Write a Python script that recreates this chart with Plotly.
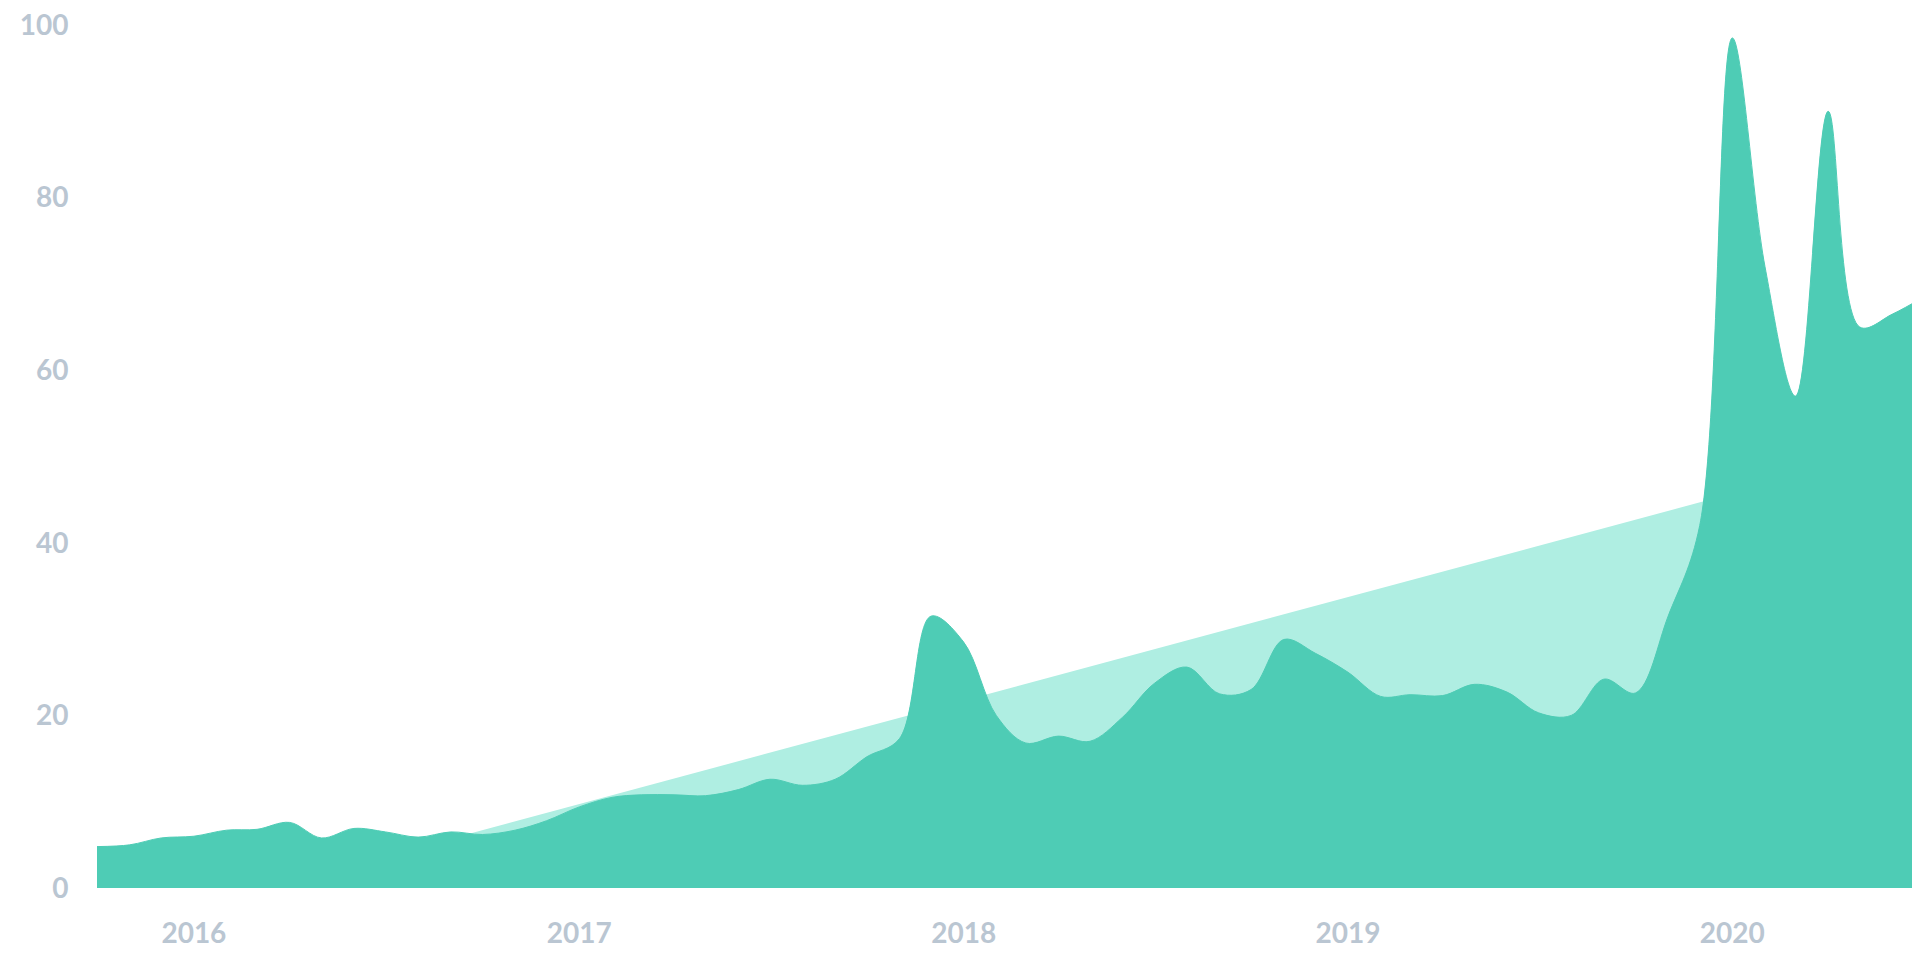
import plotly.graph_objects as go
import pandas as pd

# Monthly observations, Oct 2015 - Jul 2020
months = pd.date_range("2015-10-01", "2020-07-01", freq="MS").strftime("%Y-%m-%d").tolist()
values = [
    4.8, 5.0, 5.8,                                   # 2015 Oct-Dec
    6.0, 6.7, 6.8, 7.6, 5.8, 6.9, 6.5, 5.9, 6.5, 6.2, 6.7, 7.8,   # 2016
    9.4, 10.5, 10.8, 10.8, 10.7, 11.4, 12.6, 11.9, 12.6, 15.2, 17.3, 31.5,  # 2017
    28.5, 20.0, 16.8, 17.6, 17.0, 19.8, 23.7, 25.6, 22.5, 23.0, 28.8, 27.2,  # 2018
    25.0, 22.2, 22.4, 22.3, 23.6, 22.7, 20.3, 20.0, 24.2, 22.6, 31.5, 42.0,  # 2019
    98.5, 72.0, 57.0, 90.0, 65.0, 66.5, 68.5,        # 2020 Jan-Jul
]

# Straight trend band behind the main area
trend_dates = ["2016-06-01", "2020-01-01"]
trend_values = [2.7, 45.7]

y_ticks = [0, 20, 40, 60, 80, 100]

DARK = "#4ECCB5"
LIGHT = "#AFEEE2"
LABEL = "#BAC6D2"

fig = go.Figure()
fig.add_trace(go.Scatter(
    x=trend_dates, y=trend_values, mode="lines", fill="tozeroy",
    line=dict(color=LIGHT, width=0, shape="linear"), fillcolor=LIGHT,
    hoverinfo="skip", showlegend=False,
))
fig.add_trace(go.Scatter(
    x=months, y=values, mode="lines", fill="tozeroy",
    line=dict(color=DARK, width=1, shape="spline", smoothing=1.0), fillcolor=DARK,
    showlegend=False,
))

font = dict(family="Lato, 'Open Sans', sans-serif", size=28, color=LABEL, weight="bold")

fig.update_layout(
    width=1920, height=960,
    margin=dict(l=89, r=4, t=17, b=80),
    paper_bgcolor="white", plot_bgcolor="white",
    xaxis=dict(
        range=[months[0], months[-1]], type="date",
        tick0="2016-01-01", dtick="M12", tickformat="%Y",
        showgrid=False, zeroline=False, showline=False,
        ticks="outside", ticklen=20, tickcolor="rgba(0,0,0,0)",
        tickfont=font, automargin=False, ticklabeloverflow="allow",
    ),
    yaxis=dict(
        range=[0, 100], tickvals=y_ticks,
        showgrid=False, zeroline=False, showline=False,
        ticks="outside", ticklen=22, tickcolor="rgba(0,0,0,0)",
        tickfont=font, automargin=False, ticklabeloverflow="allow",
    ),
)

fig.write_html("out.html")
